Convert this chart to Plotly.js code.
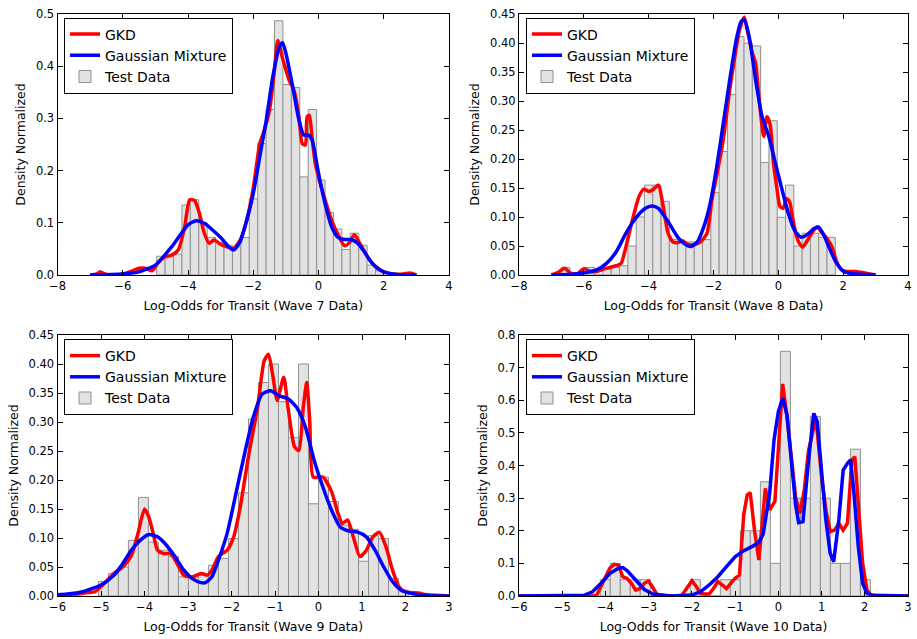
<!DOCTYPE html>
<html><head><meta charset="utf-8">
<script src="https://cdn.plot.ly/plotly-3.0.1.min.js"></script>
<style>html,body{margin:0;padding:0;background:#fff}#chart{width:917px;height:639px}</style>
</head><body><div id="chart"></div><script>
// ---------- Panel 1 : Wave 7 ----------
const w7_hist_x = [-4.831,-4.573,-4.315,-4.057,-3.799,-3.541,-3.283,-3.025,-2.767,-2.509,-2.251,-1.993,-1.735,-1.477,-1.219,-0.961,-0.703,-0.445,-0.187,0.071,0.329,0.587,0.845,1.103,1.361,1.619,1.877];
const w7_hist_y = [0.036,0.036,0.04,0.134,0.144,0.10,0.072,0.062,0.057,0.054,0.072,0.146,0.252,0.317,0.487,0.365,0.359,0.188,0.317,0.182,0.12,0.088,0.049,0.08,0.057,0.019,0.008];
const w7_bin = 0.258;
const w7_gkd_x = [-7,-6.8,-6.7,-6.5,-6.2,-6,-5.7,-5.5,-5.3,-5.1,-4.9,-4.7,-4.5,-4.3,-4.1,-3.95,-3.8,-3.65,-3.5,-3.35,-3.2,-3,-2.8,-2.6,-2.4,-2.2,-2,-1.8,-1.7,-1.5,-1.35,-1.25,-1.1,-0.9,-0.75,-0.6,-0.5,-0.4,-0.35,-0.28,-0.2,-0.1,0,0.2,0.4,0.6,0.8,0.95,1.1,1.3,1.5,1.7,2,2.3,2.6,2.8,3];
const w7_gkd_y = [0,0.002,0.006,0.001,0,0.002,0.008,0.013,0.013,0.008,0.025,0.035,0.038,0.048,0.093,0.144,0.143,0.118,0.08,0.061,0.067,0.059,0.054,0.051,0.067,0.105,0.166,0.252,0.27,0.316,0.393,0.449,0.415,0.373,0.354,0.303,0.252,0.249,0.303,0.306,0.265,0.214,0.188,0.144,0.105,0.077,0.056,0.062,0.077,0.057,0.035,0.019,0.006,0.002,0.002,0.004,0];
const w7_gm_x = [-7,-6,-5.5,-5,-4.5,-4,-3.75,-3.5,-3,-2.75,-2.6,-2.4,-2.2,-2,-1.8,-1.6,-1.4,-1.2,-1.1,-1,-0.8,-0.6,-0.45,-0.3,-0.2,-0.1,0,0.2,0.4,0.6,0.8,1,1.2,1.4,1.6,1.8,2,2.4,3];
const w7_gm_y = [0,0.002,0.006,0.019,0.054,0.096,0.104,0.099,0.072,0.054,0.048,0.064,0.105,0.156,0.227,0.297,0.38,0.437,0.445,0.425,0.364,0.297,0.268,0.268,0.259,0.23,0.195,0.137,0.093,0.072,0.068,0.068,0.061,0.045,0.026,0.013,0.006,0.001,0];

// ---------- Panel 2 : Wave 8 ----------
const w8_hist_x = [-6.562,-6.306,-6.05,-5.794,-5.538,-5.282,-5.026,-4.77,-4.514,-4.258,-4.002,-3.746,-3.49,-3.234,-2.978,-2.722,-2.466,-2.21,-1.954,-1.698,-1.442,-1.186,-0.93,-0.674,-0.418,-0.162,0.094,0.35,0.606,0.862,1.118,1.374,1.63];
const w8_hist_y = [0.013,0,0,0.013,0,0.01,0.013,0.016,0.05,0.10,0.155,0.155,0.127,0.061,0.057,0.057,0.057,0.061,0.1425,0.213,0.311,0.411,0.40,0.395,0.194,0.266,0.0995,0.155,0.05,0.072,0.072,0.065,0.065];
const w8_bin = 0.256;
const w8_gkd_x = [-7,-6.8,-6.6,-6.4,-6.2,-6,-5.8,-5.6,-5.4,-5.2,-5,-4.85,-4.7,-4.5,-4.3,-4.15,-4,-3.85,-3.7,-3.55,-3.4,-3.25,-3.1,-2.95,-2.8,-2.6,-2.4,-2.2,-2.05,-1.9,-1.7,-1.5,-1.35,-1.2,-1.05,-0.95,-0.8,-0.7,-0.6,-0.45,-0.35,-0.25,-0.15,-0.05,0.05,0.15,0.25,0.35,0.45,0.6,0.75,0.9,1.1,1.2,1.35,1.5,1.65,1.8,1.95,2.1,2.4,2.7,3];
const w8_gkd_y = [0,0.004,0.0115,0.003,0.002,0.011,0.006,0.006,0.01,0.013,0.016,0.02,0.049,0.095,0.135,0.148,0.144,0.148,0.155,0.118,0.072,0.057,0.056,0.059,0.053,0.052,0.057,0.072,0.129,0.172,0.233,0.319,0.374,0.422,0.445,0.42,0.382,0.365,0.307,0.239,0.273,0.259,0.193,0.152,0.118,0.115,0.132,0.126,0.095,0.06,0.048,0.06,0.078,0.083,0.072,0.063,0.049,0.023,0.009,0.006,0.006,0.003,0];
const w8_gm_x = [-7,-6.5,-6,-5.6,-5.3,-5,-4.7,-4.4,-4.1,-3.9,-3.7,-3.4,-3.1,-2.85,-2.7,-2.5,-2.3,-2.1,-1.9,-1.7,-1.5,-1.3,-1.15,-1.05,-0.9,-0.7,-0.5,-0.3,-0.1,0.1,0.3,0.5,0.7,0.9,1.1,1.25,1.4,1.6,1.8,2,2.3,3];
const w8_gm_y = [0,0.001,0.004,0.009,0.02,0.04,0.072,0.098,0.115,0.119,0.115,0.092,0.065,0.052,0.049,0.057,0.083,0.124,0.187,0.261,0.336,0.405,0.437,0.44,0.411,0.336,0.273,0.24,0.195,0.15,0.108,0.077,0.065,0.07,0.08,0.082,0.069,0.043,0.02,0.007,0.002,0];

// ---------- Panel 3 : Wave 9 ----------
const w9_hist_x = [-4.945,-4.715,-4.485,-4.255,-4.025,-3.795,-3.565,-3.335,-3.105,-2.875,-2.645,-2.415,-2.185,-1.955,-1.725,-1.495,-1.265,-1.035,-0.805,-0.575,-0.345,-0.115,0.115,0.345,0.575,0.805,1.035,1.265,1.495,1.725,1.955];
const w9_hist_y = [0.025,0.039,0.05,0.096,0.17,0.093,0.079,0.068,0.033,0.033,0.036,0.053,0.065,0.099,0.178,0.305,0.368,0.40,0.335,0.273,0.40,0.159,0.205,0.163,0.122,0.115,0.06,0.104,0.099,0.03,0.01];
const w9_bin = 0.23;
const w9_gkd_x = [-6,-5.6,-5.3,-5.15,-5,-4.7,-4.5,-4.3,-4.15,-4,-3.9,-3.8,-3.7,-3.55,-3.4,-3.25,-3.1,-2.9,-2.7,-2.55,-2.45,-2.3,-2.1,-1.95,-1.8,-1.6,-1.4,-1.25,-1.15,-1.05,-0.95,-0.8,-0.7,-0.55,-0.45,-0.35,-0.27,-0.2,-0.12,0.1,0.3,0.45,0.55,0.67,0.8,0.95,1.1,1.25,1.4,1.55,1.7,1.85,2,2.3,2.5,3];
const w9_gkd_y = [0.002,0.003,0.006,0.007,0.016,0.039,0.05,0.07,0.108,0.15,0.136,0.108,0.079,0.073,0.073,0.056,0.036,0.033,0.039,0.036,0.045,0.068,0.079,0.102,0.153,0.245,0.325,0.405,0.417,0.38,0.337,0.377,0.325,0.257,0.251,0.325,0.368,0.3,0.205,0.205,0.18,0.142,0.125,0.131,0.102,0.068,0.079,0.102,0.11,0.085,0.045,0.016,0.007,0.005,0.002,0];
const w9_gm_x = [-6,-5.5,-5,-4.7,-4.5,-4.3,-4.1,-3.9,-3.7,-3.5,-3.3,-3.1,-2.9,-2.7,-2.6,-2.45,-2.3,-2.1,-1.9,-1.7,-1.5,-1.3,-1.1,-0.9,-0.7,-0.5,-0.3,-0.1,0.1,0.3,0.5,0.7,0.9,1.1,1.3,1.5,1.7,1.9,2.1,2.5,3];
const w9_gm_y = [0.002,0.006,0.019,0.036,0.056,0.079,0.096,0.106,0.102,0.088,0.068,0.045,0.03,0.023,0.023,0.033,0.062,0.108,0.176,0.245,0.308,0.348,0.354,0.345,0.34,0.325,0.291,0.234,0.188,0.148,0.119,0.112,0.11,0.102,0.079,0.05,0.025,0.01,0.005,0.001,0];

// ---------- Panel 4 : Wave 10 ----------
const w10_hist_x = [-4.004,-3.773,-3.541,-3.31,-3.078,-2.847,-2.615,-2.384,-2.152,-1.921,-1.689,-1.458,-1.226,-0.995,-0.763,-0.532,-0.3,-0.069,0.163,0.394,0.626,0.857,1.089,1.32,1.552,1.783,2.015];
const w10_hist_y = [0.05,0.1,0.05,0.05,0.05,0,0,0,0,0.05,0,0,0.05,0.05,0.2,0.2,0.35,0.1,0.75,0.3,0.3,0.55,0.3,0.1,0.1,0.45,0.05];
const w10_bin = 0.2315;
const w10_gkd_x = [-6,-4.3,-4.2,-4.1,-4,-3.9,-3.8,-3.7,-3.6,-3.5,-3.4,-3.3,-3.2,-3.1,-3,-2.9,-2.8,-2.5,-2.25,-2.2,-2.1,-2,-1.9,-1.8,-1.7,-1.6,-1.5,-1.4,-1.3,-1.2,-1.1,-1,-0.9,-0.8,-0.72,-0.65,-0.55,-0.45,-0.3,-0.2,-0.08,0.1,0.2,0.3,0.4,0.5,0.6,0.7,0.8,0.87,1,1.1,1.2,1.3,1.4,1.5,1.6,1.7,1.77,1.85,1.95,2.05,2.15,2.3,3];
const w10_gkd_y = [0,0,0.003,0.029,0.059,0.085,0.097,0.095,0.059,0.054,0.039,0.018,0.023,0.039,0.046,0.023,0.003,0,0,0.008,0.029,0.047,0.029,0.008,0.006,0.006,0.023,0.044,0.034,0.023,0.039,0.054,0.064,0.25,0.31,0.317,0.2,0.11,0.33,0.264,0.29,0.65,0.55,0.417,0.304,0.253,0.325,0.447,0.5,0.545,0.366,0.264,0.197,0.202,0.223,0.202,0.223,0.417,0.427,0.284,0.1,0.018,0.002,0,0];
const w10_gm_x = [-6,-4.5,-4.3,-4.1,-3.9,-3.7,-3.6,-3.5,-3.3,-3.1,-2.9,-2.5,-2,-1.8,-1.6,-1.4,-1.2,-1,-0.8,-0.6,-0.45,-0.35,-0.2,-0.1,0,0.1,0.2,0.3,0.4,0.47,0.57,0.7,0.82,0.9,1,1.1,1.2,1.28,1.4,1.5,1.6,1.67,1.75,1.85,1.95,2.05,2.2,3];
const w10_gm_y = [0,0.002,0.013,0.039,0.069,0.085,0.087,0.078,0.049,0.02,0.006,0,0.003,0.013,0.034,0.059,0.09,0.12,0.139,0.152,0.165,0.19,0.315,0.478,0.565,0.606,0.555,0.427,0.279,0.225,0.228,0.417,0.56,0.534,0.386,0.233,0.131,0.105,0.233,0.386,0.407,0.417,0.315,0.151,0.039,0.008,0.002,0];

const xTitles = ['Log-Odds for Transit (Wave 7 Data)','Log-Odds for Transit (Wave 8 Data)','Log-Odds for Transit (Wave 9 Data)','Log-Odds for Transit (Wave 10 Data)'];
const seriesNames = ['GKD','Gaussian Mixture','Test Data'];

const FONT = 'DejaVu Sans';
const RED = '#ff0000', BLUE = '#0000ff';

function lineTrace(x, y, name, color, n, shape) {
  return {type:'scatter', mode:'lines', x:x, y:y, name:name,
    line:{color:color, width:3.5, shape:shape, smoothing:0.6},
    xaxis:'x'+(n===1?'':n), yaxis:'y'+(n===1?'':n),
    legend:'legend'+(n===1?'':n), hoverinfo:'skip'};
}
function barTrace(x, y, w, n) {
  return {type:'bar', x:x, y:y, width:w, name:seriesNames[2],
    marker:{color:'rgb(226,226,226)', line:{color:'rgb(145,145,145)', width:1}},
    xaxis:'x'+(n===1?'':n), yaxis:'y'+(n===1?'':n),
    legend:'legend'+(n===1?'':n), hoverinfo:'skip'};
}

const panels = [
  {hx:w7_hist_x, hy:w7_hist_y, bw:w7_bin, gx:w7_gkd_x, gy:w7_gkd_y, mx:w7_gm_x, my:w7_gm_y, shape:'spline'},
  {hx:w8_hist_x, hy:w8_hist_y, bw:w8_bin, gx:w8_gkd_x, gy:w8_gkd_y, mx:w8_gm_x, my:w8_gm_y, shape:'spline'},
  {hx:w9_hist_x, hy:w9_hist_y, bw:w9_bin, gx:w9_gkd_x, gy:w9_gkd_y, mx:w9_gm_x, my:w9_gm_y, shape:'spline'},
  {hx:w10_hist_x, hy:w10_hist_y, bw:w10_bin, gx:w10_gkd_x, gy:w10_gkd_y, mx:w10_gm_x, my:w10_gm_y, shape:'linear'}
];

const data = [];
panels.forEach((p, i) => {
  const n = i + 1;
  data.push(lineTrace(p.gx, p.gy, seriesNames[0], RED, n, p.shape));
  data.push(lineTrace(p.mx, p.my, seriesNames[1], BLUE, n, p.shape));
  data.push(barTrace(p.hx, p.hy, p.bw, n));
});

const W = 917, H = 639;
const xDom = [[57.5/W, 449/W], [519/W, 908/W], [57.5/W, 449/W], [519/W, 908/W]];
const yDom = [[364/H, 625/H], [364/H, 625/H], [43/H, 304/H], [43/H, 304/H]];
const xRange = [[-8,4],[-8,4],[-6,3],[-6,3]];
const xDtick = [2,2,1,1];
const yRange = [[0,0.5],[0,0.45],[0,0.45],[0,0.8]];
const yDtick = [0.1,0.05,0.05,0.1];
const yFmt = ['.1f','.2f','.2f','.1f'];
const legPos = [[64/W, 1-17.5/H],[526/W, 1-17.5/H],[64/W, 1-339/H],[526/W, 1-339/H]];

const tickfont = {family:FONT, size:11.5, color:'#000'};
const titlefont = {family:FONT, size:12.5, color:'#000'};
const layout = {
  width:W, height:H, margin:{l:0,r:0,t:0,b:0},
  paper_bgcolor:'#fff', plot_bgcolor:'#fff',
  barmode:'overlay', bargap:0,
  font:{family:FONT, color:'#000'}
};
for (let i = 0; i < 4; i++) {
  const n = i + 1, s = n===1 ? '' : String(n);
  layout['xaxis'+s] = {domain:xDom[i], anchor:'y'+s, range:xRange[i], dtick:xDtick[i], tick0:0,
    showline:true, linecolor:'#000', linewidth:1, mirror:'ticks', ticks:'inside', ticklen:5, tickcolor:'#000',
    showgrid:false, zeroline:false, tickfont:tickfont, automargin:false,
    title:{text:xTitles[i], font:titlefont, standoff:9}};
  layout['yaxis'+s] = {domain:yDom[i], anchor:'x'+s, range:yRange[i], dtick:yDtick[i], tick0:0, tickformat:yFmt[i],
    showline:true, linecolor:'#000', linewidth:1, mirror:'ticks', ticks:'inside', ticklen:5, tickcolor:'#000',
    showgrid:false, zeroline:false, tickfont:tickfont, automargin:false,
    title:{text:'Density Normalized', font:titlefont, standoff:7}};
  layout['legend'+s] = {x:legPos[i][0], y:legPos[i][1], xanchor:'left', yanchor:'top', xref:'paper', yref:'paper',
    bgcolor:'#fff', bordercolor:'#000', borderwidth:1, font:{family:FONT, size:14, color:'#000'},
    traceorder:'normal', tracegroupgap:0};
}

Plotly.newPlot('chart', data, layout, {staticPlot:true, displayModeBar:false});
</script></body></html>
